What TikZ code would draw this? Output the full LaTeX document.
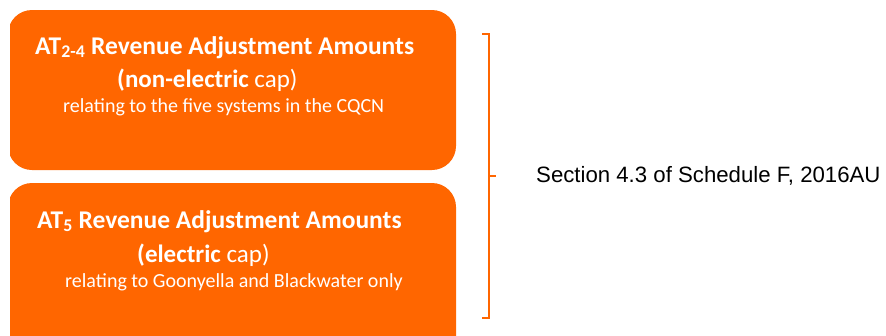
\documentclass[tikz,border=0pt]{standalone}
\usepackage{fontspec}
\setmainfont{Carlito}
\newfontfamily\arialfont{Liberation Sans}
\definecolor{capOrange}{HTML}{FF6600}

\begin{document}
\begin{tikzpicture}[x=1pt,y=-1pt,
    capbox/.style={fill=capOrange,rounded corners=24pt},
    titletext/.style={text=white,anchor=base west,inner sep=0pt,
        font=\fontsize{25.5}{30}\selectfont},
    captext/.style={titletext,font=\fontsize{25}{30}\selectfont},
    subtext/.style={text=white,anchor=base west,inner sep=0pt,
        font=\fontsize{20}{24}\selectfont},
    bracket/.style={draw=capOrange,line width=1.4pt}
]
    \useasboundingbox (0,0) rectangle (886,335);
    \clip (10,0) rectangle (886,335);
    % the two orange cap boxes
    \fill[capbox] (8,10) rectangle (456,170);
    \fill[capbox] (8,183) rectangle (456,360);
    % top box
    \node[titletext] (nonTitle) at (35,54) {\textbf{AT\textsubscript{2-4} Revenue Adjustment Amounts}};
    \node[captext] (nonCap) at (117,87) {\textbf{(non-electric} cap)};
    \node[subtext] (nonSys) at (63,112) {relating to the five systems in the CQCN};
    % bottom box
    \node[titletext] (elTitle) at (37,228) {\textbf{AT\textsubscript{5} Revenue Adjustment Amounts}};
    \node[captext] (elCap) at (137,262) {\textbf{(electric} cap)};
    \node[subtext] (elSys) at (65,287) {relating to Goonyella and Blackwater only};
    % bracket
    \coordinate (brTop) at (482,34);
    \coordinate (brBot) at (482,318);
    \coordinate (brMid) at (489,176);
    \coordinate (brTip) at (496,176);
    \draw[bracket] (brTop) -- (brTop -| brMid) -- (brBot -| brMid) -- (brBot);
    \draw[bracket] (brMid) -- (brTip);
    \node[anchor=west,inner sep=0pt,font=\arialfont\fontsize{22.2}{26}\selectfont] (section) at (536,176) {Section 4.3 of Schedule F, 2016AU};
\end{tikzpicture}
\end{document}
